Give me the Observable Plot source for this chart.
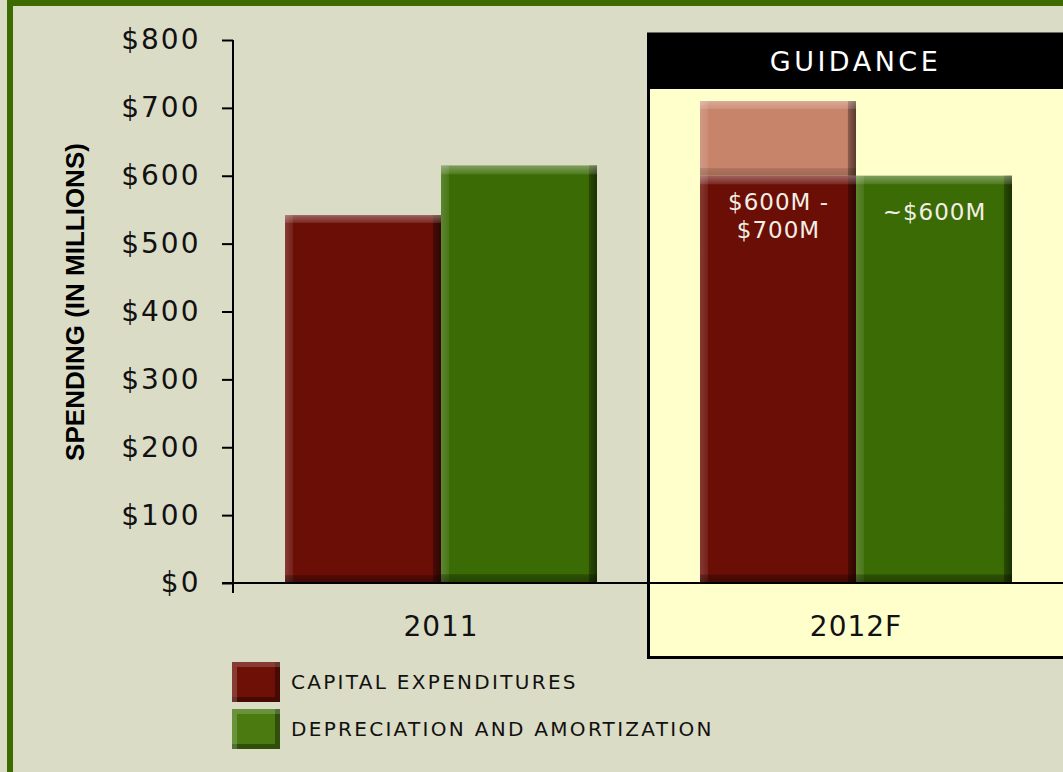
<!DOCTYPE html>
<html>
<head>
<meta charset="utf-8">
<script src="https://cdn.jsdelivr.net/npm/d3@7"></script>
<script src="https://cdn.jsdelivr.net/npm/@observablehq/plot@0.6"></script>
<style>
  html, body { margin: 0; padding: 0; }
  body { width: 1063px; height: 772px; overflow: hidden; background: #dbdcc6; position: relative; font-family: "DejaVu Sans", sans-serif; }
  #frame { position: absolute; left: 7px; top: 0; width: 1200px; height: 900px; border-left: 6px solid #3d6b00; border-top: 6px solid #3d6b00; box-sizing: border-box; }
  #chart { position: absolute; left: 0; top: 0; }
  #chart svg [aria-label^="y-axis"] text { letter-spacing: 2px; fill: #111; }
  #chart svg [aria-label^="fx-axis"] text { letter-spacing: 1px; fill: #111; }
  #chart svg [aria-label="y-axis label"] text,
  #chart svg text.ylabel { font-family: "Liberation Sans", Arial, sans-serif; font-weight: bold; font-size: 26px; letter-spacing: 0; fill: #000; }
  #chart svg [aria-label^="y-axis tick"] path, #chart svg [aria-label^="y-axis tick"] line { stroke-width: 2px; stroke: #000; }
  .legend { position: absolute; left: 232px; top: 662px; }
  .legend .row { display: flex; align-items: center; height: 40px; margin-bottom: 7px; }
  .legend .sw { width: 48px; height: 40px; box-sizing: border-box; margin-right: 11px; }
  .legend .lab { font-family: "DejaVu Sans", sans-serif; font-size: 20px; letter-spacing: 2.3px; color: #111; }
</style>
</head>
<body>
<svg width="0" height="0" style="position:absolute">
  <defs>
    <linearGradient id="bevelH" x1="0" x2="1" y1="0" y2="0">
      <stop offset="0" stop-color="#fff" stop-opacity="0.18"/>
      <stop offset="0.05" stop-color="#fff" stop-opacity="0.08"/>
      <stop offset="0.055" stop-color="#fff" stop-opacity="0"/>
      <stop offset="0.945" stop-color="#000" stop-opacity="0"/>
      <stop offset="0.95" stop-color="#000" stop-opacity="0.3"/>
      <stop offset="1" stop-color="#000" stop-opacity="0.55"/>
    </linearGradient>
    <linearGradient id="bevelV" x1="0" x2="0" y1="0" y2="1">
      <stop offset="0" stop-color="#fff" stop-opacity="0.35"/>
      <stop offset="0.02" stop-color="#fff" stop-opacity="0.12"/>
      <stop offset="0.022" stop-color="#fff" stop-opacity="0"/>
      <stop offset="0.978" stop-color="#000" stop-opacity="0"/>
      <stop offset="0.98" stop-color="#000" stop-opacity="0.25"/>
      <stop offset="1" stop-color="#000" stop-opacity="0.4"/>
    </linearGradient>
    <linearGradient id="bevelV2" x1="0" x2="0" y1="0" y2="1">
      <stop offset="0" stop-color="#fff" stop-opacity="0.3"/>
      <stop offset="0.1" stop-color="#fff" stop-opacity="0.12"/>
      <stop offset="0.11" stop-color="#fff" stop-opacity="0"/>
      <stop offset="0.89" stop-color="#000" stop-opacity="0"/>
      <stop offset="0.9" stop-color="#000" stop-opacity="0.12"/>
      <stop offset="1" stop-color="#000" stop-opacity="0.2"/>
    </linearGradient>
  </defs>
</svg>
<div id="frame"></div>
<div id="chart"></div>
<div class="legend" id="legend"></div>
<script>
// ---- data ----
const years = ["2011", "2012F"];
const seriesKeys = ["capex", "da"];
const seriesNames = ["CAPITAL EXPENDITURES", "DEPRECIATION AND AMORTIZATION"];
const capex = [542, 600];
const depAmort = [615, 600];
const capexGuidanceHigh = [null, 710];
const capexLabels = ["", "$600M -\n$700M"];
const daLabels = ["", "~$600M"];
const yTicks = [0, 100, 200, 300, 400, 500, 600, 700, 800];
const yTitle = "SPENDING (IN MILLIONS)";
const guidanceTitle = "GUIDANCE";
const guidanceYear = "2012F";

// ---- colours ----
const capexColor = "#6a0e06";
const daColor = "#3a6b04";
const rangeColor = "#c8836b";
const legendColors = ["#6e1006", "#4a7a10"];

const rows = years.flatMap((yr, i) => [
  {year: yr, series: "capex", value: capex[i], label: capexLabels[i]},
  {year: yr, series: "da", value: depAmort[i], label: daLabels[i]}
]);
const rangeRows = years
  .map((yr, i) => ({year: yr, series: "capex", low: capex[i], high: capexGuidanceHigh[i]}))
  .filter(d => d.high != null);

const W = 1063, H = 660;
const plot = Plot.plot({
  width: W,
  height: H,
  marginLeft: 233,
  marginRight: 0,
  marginTop: 40,
  marginBottom: 77,
  style: {background: "transparent", fontFamily: "DejaVu Sans, sans-serif", fontSize: "28px", color: "#111"},
  fx: {domain: years, padding: 0, axis: "bottom", label: null, tickSize: 0, tickPadding: 33},
  x: {domain: seriesKeys, paddingInner: 0, paddingOuter: 0.33, axis: null},
  y: {domain: [0, 800], ticks: yTicks, tickFormat: d => "$" + d, tickSize: 11, tickPadding: 22,
      label: yTitle, labelAnchor: "center", labelOffset: 168},
  color: {domain: seriesKeys, range: [capexColor, daColor]},
  marks: [
    Plot.barY(rows, {fx: "year", x: "series", y: "value", fill: "series"}),
    Plot.barY(rows, {fx: "year", x: "series", y: "value", fill: "url(#bevelH)"}),
    Plot.barY(rows, {fx: "year", x: "series", y: "value", fill: "url(#bevelV)"}),
    Plot.barY(rangeRows, {fx: "year", x: "series", y1: "low", y2: "high", fill: rangeColor}),
    Plot.barY(rangeRows, {fx: "year", x: "series", y1: "low", y2: "high", fill: "url(#bevelH)"}),
    Plot.barY(rangeRows, {fx: "year", x: "series", y1: "low", y2: "high", fill: "url(#bevelV2)"}),
    Plot.text(rows.filter(d => d.series === "capex"), {fx: "year", x: "series", y: "value", text: "label",
      dy: 39, fill: "#f3efe4", fontSize: 23, lineHeight: 1.22}),
    Plot.text(rows.filter(d => d.series === "da"), {fx: "year", x: "series", y: "value", text: "label",
      dy: 36, fill: "#f3efe4", fontSize: 23})
  ]
});
document.getElementById("chart").appendChild(plot);

// ---- annotations derived from the plot's scales ----
const svg = d3.select(plot);
svg.selectAll('[aria-label="text"] text').attr("letter-spacing", 1);
// y title without the direction arrow, nudged like the original
svg.selectAll('[aria-label="y-axis label"] text').text(yTitle).attr("dx", 10);

const fxS = plot.scale("fx");
const yS = plot.scale("y");
const fxPos = v => fxS.apply ? fxS.apply(v) : fxS.range[0] + fxS.domain.indexOf(v) * fxS.step;
const fxBand = fxS.bandwidth != null ? fxS.bandwidth : (fxS.range[1] - fxS.range[0]) / fxS.domain.length;
const yPos = v => yS.apply ? yS.apply(v) : d3.scaleLinear(yS.domain, yS.range)(v);

const bx = fxPos(guidanceYear);
const yTop = yPos(d3.max(yTicks));
const y0 = yPos(0);
const boxTop = yTop - 6;
const boxBottom = y0 + 74.5;
const headerH = 55;

const box = svg.insert("g", ":first-child").attr("aria-label", "guidance box");
box.append("rect")
  .attr("x", bx + 0.5).attr("y", boxTop)
  .attr("width", W - bx + 10).attr("height", boxBottom - boxTop)
  .attr("fill", "#ffffcc").attr("stroke", "#000").attr("stroke-width", 3);
box.append("rect")
  .attr("x", bx).attr("y", boxTop)
  .attr("width", W - bx + 10).attr("height", headerH)
  .attr("fill", "#000");
box.append("text")
  .attr("x", bx + fxBand / 2).attr("y", boxTop + headerH / 2)
  .attr("text-anchor", "middle").attr("dominant-baseline", "central")
  .attr("fill", "#fff").attr("font-size", 27).attr("letter-spacing", 3.5)
  .text(guidanceTitle);

const axes = svg.append("g").attr("aria-label", "axis lines").attr("stroke", "#000").attr("stroke-width", 2);
const left = fxS.range[0];
axes.append("line").attr("x1", left - 11).attr("x2", W).attr("y1", y0).attr("y2", y0);
axes.append("line").attr("x1", left).attr("x2", left).attr("y1", yTop).attr("y2", y0 + 10);

// ---- legend ----
const legend = d3.select("#legend");
seriesNames.forEach((name, i) => {
  const row = legend.append("div").attr("class", "row");
  row.append("div").attr("class", "sw")
    .style("background", legendColors[i])
    .style("box-shadow", "inset 5px 5px 0 rgba(255,255,255,0.18), inset -5px -5px 0 rgba(0,0,0,0.35)");
  row.append("div").attr("class", "lab").text(name);
});
</script>
</body>
</html>
